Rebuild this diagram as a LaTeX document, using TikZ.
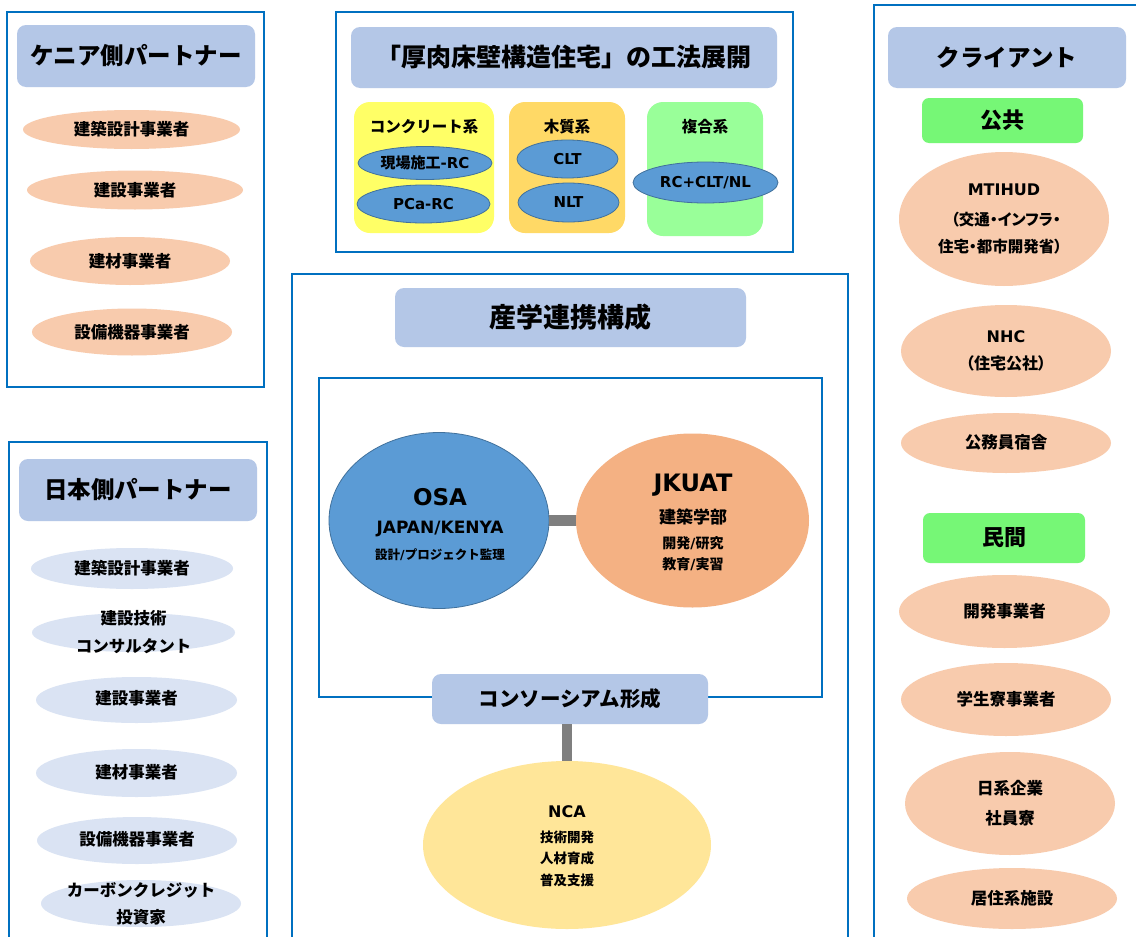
\documentclass[tikz,border=0pt]{standalone}
\usepackage{fontspec}
\setmainfont{Noto Sans CJK JP}
\newfontfamily\latf{DejaVu Sans}
\newcommand\latn[1]{{\latf\bfseries #1}}
\newcommand\fsz[1]{\fontsize{#1}{#1}\selectfont}
\newcommand\prop{\addfontfeature{RawFeature=+palt}}
\usetikzlibrary{shapes.geometric}
\definecolor{bord}{HTML}{0070C0}
\definecolor{hdrc}{HTML}{B4C7E7}
\definecolor{peach}{HTML}{F8CBAD}
\definecolor{lblue}{HTML}{DAE3F3}
\definecolor{ylw}{HTML}{FFFF66}
\definecolor{org}{HTML}{FFD966}
\definecolor{grn}{HTML}{99FF99}
\definecolor{mblue}{HTML}{5B9BD5}
\definecolor{mbord}{HTML}{41719C}
\definecolor{tagc}{HTML}{76F776}
\definecolor{jkc}{HTML}{F4B183}
\definecolor{ncac}{HTML}{FFE699}
\definecolor{barc}{HTML}{7F7F7F}
\begin{document}
\begin{tikzpicture}[x=1pt,y=-1pt,
  every node/.style={inner sep=0pt, outer sep=0pt},
  frame/.style={draw=bord, line width=2pt},
  hdr/.style={fill=hdrc, rounded corners=9pt, font=\bfseries\fsz{23.5}},
  tagbox/.style={fill=tagc, rounded corners=7pt, font=\bfseries\fsz{22}},
  subbox/.style={rounded corners=16pt},
  pe/.style={ellipse, fill=peach},
  lb/.style={ellipse, fill=lblue},
  be/.style={ellipse, fill=mblue, draw=mbord, line width=0.8pt},
  txt/.style={font=\bfseries\fsz{16.5}, align=center},
  stxt/.style={font=\bfseries\fsz{15}, align=center},
  bar/.style={draw=barc, line width=10.5pt}
]
\useasboundingbox (0,0) rectangle (1136,937);
\clip (0,0) rectangle (1136,937);
\fill[white] (0,0) rectangle (1136,937);

% ---------- Kenya partners ----------
\draw[frame] (7,12) rectangle (264,387);
\node[hdr, minimum width=238pt, minimum height=62pt] (kh) at (136,56) {ケニア側パートナー};
\node[pe, minimum width=217pt, minimum height=39pt] (k1) at (131.5,129.5) {};
\node[txt] (k1t) at (k1) {建築設計事業者};
\node[pe, minimum width=216pt, minimum height=39pt] (k2) at (135,190) {};
\node[txt] (k2t) at (k2) {建設事業者};
\node[pe, minimum width=200pt, minimum height=48pt] (k3) at (130,261) {};
\node[txt] (k3t) at (k3) {建材事業者};
\node[pe, minimum width=200pt, minimum height=47pt] (k4) at (132,332) {};
\node[txt] (k4t) at (k4) {設備機器事業者};

% ---------- Construction methods ----------
\draw[frame] (336,12) rectangle (793,252);
\node[hdr, minimum width=426pt, minimum height=61pt, font=\bfseries\fsz{25}] (mh) at (564,57.5) {「厚肉床壁構造住宅」の工法展開};
\node[subbox, fill=ylw, minimum width=140pt, minimum height=131pt] (sy) at (424,167.5) {};
\node[subbox, fill=org, minimum width=116pt, minimum height=131pt] (so) at (567,167.5) {};
\node[subbox, fill=grn, minimum width=116pt, minimum height=134pt] (sg) at (705,169) {};
\node[font=\bfseries\fsz{15.5}] (syt) at (424,127) {コンクリート系};
\node[font=\bfseries\fsz{15.5}] (sot) at (567,127) {木質系};
\node[font=\bfseries\fsz{15.5}] (sgt) at (705,127) {複合系};
\node[be, minimum width=134pt, minimum height=33pt] (e1) at (425,163) {};
\node[stxt] (e1t) at (e1) {現場施工\latn{-RC}};
\node[be, minimum width=133pt, minimum height=38pt] (e2) at (423.5,204) {};
\node[stxt] (e2t) at (e2) {\latn{PCa-RC}};
\node[be, minimum width=101pt, minimum height=38pt] (e3) at (567.5,159) {};
\node[stxt] (e3t) at (e3) {\latn{CLT}};
\node[be, minimum width=101pt, minimum height=39pt] (e4) at (568.5,202.5) {};
\node[stxt] (e4t) at (e4) {\latn{NLT}};
\node[be, minimum width=145pt, minimum height=41pt] (e5) at (705.5,182.5) {};
\node[stxt] (e5t) at (e5) {\latn{RC+CLT/NL}};

% ---------- Clients ----------
\draw[frame] (874,5) rectangle (1160,960);
\node[hdr, minimum width=238pt, minimum height=61pt] (ch) at (1007,57.5) {クライアント};
\node[tagbox, minimum width=161pt, minimum height=45pt] (pub) at (1002.5,120.5) {公共};
\node[pe, minimum width=210pt, minimum height=134pt] (c1) at (1004,219) {};
\node[font=\bfseries\fsz{16}] (c1a) at (1004,190) {\latn{MTIHUD}};
\node[font=\bfseries\fsz{15.5}\prop] (c1b) at (1006,220) {（交通・インフラ・};
\node[font=\bfseries\fsz{15.5}\prop] (c1c) at (1000,247) {住宅・都市開発省）};
\node[pe, minimum width=210pt, minimum height=92pt] (c2) at (1006,351) {};
\node[font=\bfseries\fsz{16}] (c2a) at (1006,337) {\latn{NHC}};
\node[font=\bfseries\fsz{16}\prop] (c2b) at (1006,363) {（住宅公社）};
\node[pe, minimum width=210pt, minimum height=60pt] (c3) at (1006,443) {};
\node[txt] (c3t) at (1006,442) {公務員宿舎};
\node[tagbox, minimum width=162pt, minimum height=50pt] (pri) at (1004,538) {民間};
\node[pe, minimum width=211pt, minimum height=73pt] (c4) at (1004.5,611.5) {};
\node[txt] (c4t) at (c4) {開発事業者};
\node[pe, minimum width=210pt, minimum height=73pt] (c5) at (1006,699.5) {};
\node[txt] (c5t) at (c5) {学生寮事業者};
\node[pe, minimum width=210pt, minimum height=103pt] (c6) at (1010,803.5) {};
\node[txt] (c6a) at (1010,788) {日系企業};
\node[txt] (c6b) at (1010,818) {社員寮};
\node[pe, minimum width=210pt, minimum height=61pt] (c7) at (1012,898.5) {};
\node[txt] (c7t) at (c7) {居住系施設};

% ---------- Japan partners ----------
\draw[frame] (9,442) rectangle (267,960);
\node[hdr, minimum width=238pt, minimum height=62pt] (jh) at (138,490) {日本側パートナー};
\node[lb, minimum width=202pt, minimum height=41pt] (j1) at (132,568.5) {};
\node[txt] (j1t) at (132,568) {建築設計事業者};
\node[lb, minimum width=203pt, minimum height=39pt] (j2) at (133.5,632.5) {};
\node[txt] (j2a) at (133.5,618) {建設技術};
\node[txt] (j2b) at (133.5,646) {コンサルタント};
\node[lb, minimum width=201pt, minimum height=46pt] (j3) at (136.5,700) {};
\node[txt] (j3t) at (136.5,698) {建設事業者};
\node[lb, minimum width=201pt, minimum height=48pt] (j4) at (136.5,773) {};
\node[txt] (j4t) at (136.5,772) {建材事業者};
\node[lb, minimum width=200pt, minimum height=47pt] (j5) at (137,840.5) {};
\node[txt] (j5t) at (137,839) {設備機器事業者};
\node[lb, minimum width=200pt, minimum height=47pt] (j6) at (141,903.5) {};
\node[txt] (j6a) at (141,890) {カーボンクレジット};
\node[txt] (j6b) at (141,917) {投資家};

% ---------- Industry-academia ----------
\draw[frame] (292,274) rectangle (848,960);
\node[hdr, minimum width=351pt, minimum height=59pt, font=\bfseries\fsz{27}] (ih) at (570.5,317.5) {産学連携構成};
\draw[frame] (319,378) rectangle (822,697);
\node[ellipse, fill=mblue, draw=mbord, line width=0.8pt, minimum width=220pt, minimum height=176pt] (osa) at (439,520.5) {};
\node[ellipse, fill=jkc, minimum width=233pt, minimum height=174pt] (jk) at (692.5,520.5) {};
\draw[bar] (osa) -- (jk);
\node[font=\bfseries\fsz{23}] (osa1) at (440,497) {\latn{OSA}};
\node[font=\bfseries\fsz{17}] (osa2) at (440,529) {\latn{JAPAN/KENYA}};
\node[font=\bfseries\fsz{12.5}] (osa3) at (440,555) {設計\latn{/}プロジェクト監理};
\node[font=\bfseries\fsz{24}] (jk1) at (693,485) {\latn{JKUAT}};
\node[font=\bfseries\fsz{17}] (jk2) at (693,517) {建築学部};
\node[font=\bfseries\fsz{14}] (jk3) at (693,543) {開発\latn{/}研究};
\node[font=\bfseries\fsz{14}] (jk4) at (693,564) {教育\latn{/}実習};
\node[hdr, minimum width=276pt, minimum height=50pt, font=\bfseries\fsz{20.5}] (cons) at (570,699) {コンソーシアム形成};
\node[ellipse, fill=ncac, minimum width=288pt, minimum height=168pt] (nca) at (567,845) {};
\draw[bar] (cons.south -| nca.north) -- (nca.north);
\node[font=\bfseries\fsz{16}] (nca1) at (567,812) {\latn{NCA}};
\node[font=\bfseries\fsz{13.5}] (nca2) at (567,837) {技術開発};
\node[font=\bfseries\fsz{13.5}] (nca3) at (567,858) {人材育成};
\node[font=\bfseries\fsz{13.5}] (nca4) at (567,880) {普及支援};
\end{tikzpicture}
\end{document}
